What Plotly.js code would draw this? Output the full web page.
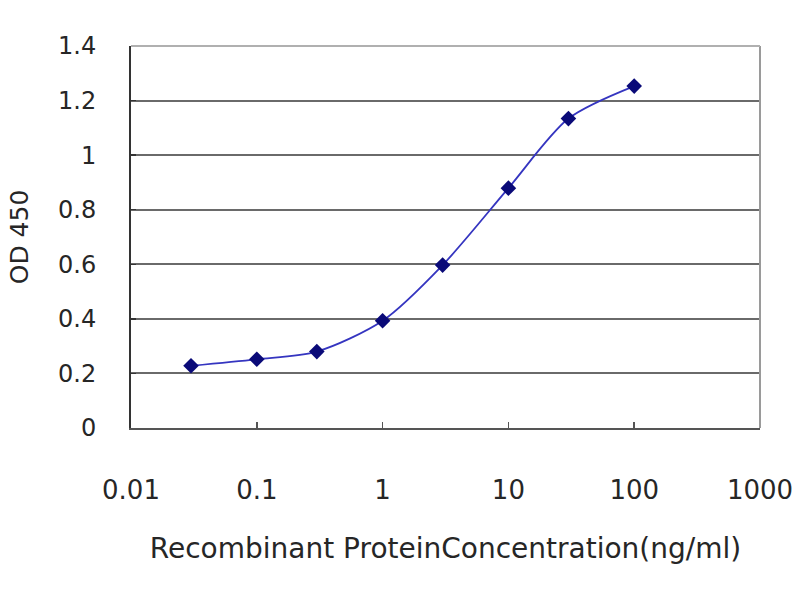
<!DOCTYPE html>
<html>
<head>
<meta charset="utf-8">
<script src="https://cdn.plot.ly/plotly-3.0.1.min.js"></script>
<style>html,body{margin:0;padding:0;background:#fff;}#chart{width:800px;height:600px;}</style>
</head>
<body>
<div id="chart"></div>
<script>
const concentrations = [0.03, 0.1, 0.3, 1, 3, 10, 30, 100];
const od450 = [0.228, 0.252, 0.28, 0.393, 0.597, 0.879, 1.134, 1.253];
const xTickVals = [0.01, 0.1, 1, 10, 100, 1000];
const xTickText = ['0.01', '0.1', '1', '10', '100', '1000'];
const yTickVals = [0, 0.2, 0.4, 0.6, 0.8, 1, 1.2, 1.4];
const yTickText = ['0', '0.2', '0.4', '0.6', '0.8', '1', '1.2', '1.4'];

const trace = {
  x: concentrations,
  y: od450,
  type: 'scatter',
  mode: 'lines+markers',
  line: {color: '#3535c0', width: 1.8, shape: 'spline', smoothing: 0.8},
  marker: {symbol: 'diamond', size: 12, color: '#0a0a78'},
  showlegend: false,
  hoverinfo: 'x+y'
};

const layout = {
  width: 800,
  height: 600,
  margin: {l: 131, r: 40, t: 46, b: 172},
  paper_bgcolor: '#fff',
  plot_bgcolor: '#fff',
  font: {family: 'DejaVu Sans, Liberation Sans, Arial, sans-serif', color: '#262626', size: 22},
  xaxis: {
    type: 'log',
    range: [-2, 3],
    tickvals: xTickVals,
    ticktext: xTickText,
    showgrid: false,
    zeroline: false,
    showline: true,
    linecolor: '#555',
    linewidth: 2,
    ticks: 'inside',
    ticklen: 6,
    tickwidth: 1.5,
    tickcolor: '#555',
    ticklabelstandoff: 38,
    tickfont: {size: 26},
    title: {text: 'Recombinant ProteinConcentration(ng/ml)', font: {size: 28}, standoff: 34}
  },
  yaxis: {
    range: [0, 1.4],
    tickvals: yTickVals,
    ticktext: yTickText,
    showgrid: true,
    gridcolor: '#6a6a6a',
    gridwidth: 2,
    zeroline: false,
    showline: true,
    linecolor: '#333',
    linewidth: 2,
    ticks: 'inside',
    ticklen: 5,
    tickwidth: 1.5,
    tickcolor: '#333',
    ticklabelstandoff: 28,
    tickfont: {size: 24},
    title: {text: 'OD 450', font: {size: 25}, standoff: 22}
  },
  shapes: [
    {type: 'line', xref: 'paper', yref: 'paper', x0: 1, x1: 1, y0: 0, y1: 1,
     line: {color: '#9a9a9a', width: 2}},
    {type: 'line', xref: 'paper', yref: 'paper', x0: 0, x1: 1, y0: 1, y1: 1,
     line: {color: '#b0b0b0', width: 2}}
  ]
};

Plotly.newPlot('chart', [trace], layout, {displayModeBar: false, staticPlot: true});
</script>
</body>
</html>
